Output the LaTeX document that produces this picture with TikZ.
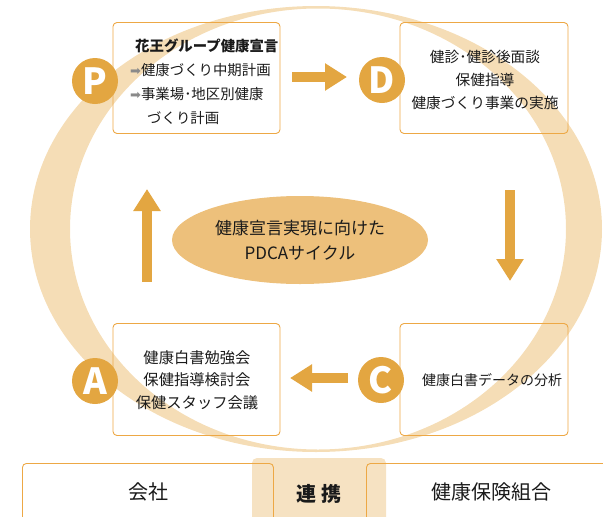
\documentclass[tikz,border=0pt]{standalone}
\usepackage{fontspec}
\setmainfont{Noto Sans CJK JP}
\newfontfamily\symfont{DejaVu Sans}
\usetikzlibrary{arrows.meta,shapes.geometric}
\definecolor{ringc}{HTML}{F5DDB6}
\definecolor{accent}{HTML}{E3A641}
\definecolor{ellc}{HTML}{EDC07B}
\definecolor{boxline}{HTML}{EDA845}
\definecolor{txt}{HTML}{1A1A1A}
\definecolor{tanc}{HTML}{F6E2C2}
\definecolor{arrowgray}{HTML}{8A8A8A}
\begin{document}
\begin{tikzpicture}[x=1pt,y=-1pt,
  stagebox/.style={draw=boxline, line width=0.9pt, rounded corners=4pt, inner sep=0pt},
  badge/.style={circle, fill=accent, minimum size=46pt, inner sep=0pt, text=white, font=\fontsize{36}{36}\selectfont\bfseries},
  flow/.style={draw=accent, line width=10pt, -{Triangle[width=26pt,length=22pt]}},
  lbl/.style={text=txt, font=\fontsize{15}{23}\selectfont, align=center, inner sep=0pt},
  bottomlbl/.style={text=txt, font=\fontsize{20}{22}\selectfont, inner sep=0pt}]
\clip (0,0) rectangle (603,517);
% big ring
\fill[ringc, even odd rule] (316,229) ellipse [x radius=286, y radius=223]
                            (318,229) ellipse [x radius=248, y radius=220.5];
% stage boxes
\node[stagebox, minimum width=167pt, minimum height=111pt] (Pbox) at (196.5,78) {};
\node[stagebox, minimum width=168pt, minimum height=111pt] (Dbox) at (484,78) {};
\node[stagebox, minimum width=167pt, minimum height=112pt] (Abox) at (196.5,379.5) {};
\node[stagebox, minimum width=168pt, minimum height=112pt] (Cbox) at (484,379.5) {};
% box texts
\node[lbl, align=left, anchor=west, font=\fontsize{14.4}{24}\selectfont] (Ptext) at (130,82)
  {\hspace{5pt}{\bfseries 花王グループ健康宣言}\\
   {\color{arrowgray}\symfont\fontsize{13}{13}\selectfont ➡}健康づくり中期計画\\
   {\color{arrowgray}\symfont\fontsize{13}{13}\selectfont ➡}事業場･地区別健康\\
   \hspace{17pt}づくり計画};
\node[lbl, font=\fontsize{14.7}{23}\selectfont] (Dtext) at (485,80) {健診･健診後面談\\保健指導\\健康づくり事業の実施};
\node[lbl, font=\fontsize{15.3}{22.5}\selectfont] (Atext) at (197,380) {健康白書勉強会\\保健指導検討会\\保健スタッフ会議};
\node[lbl, font=\fontsize{14}{22}\selectfont] (Ctext) at (492,380) {健康白書データの分析};
% centre ellipse
\node[ellipse, fill=ellc, minimum width=256pt, minimum height=88pt, inner sep=0pt,
      text=txt, align=center, font=\fontsize{17}{25}\selectfont] (centre) at (300,240)
  {健康宣言実現に向けた\\PDCAサイクル};
% flow arrows
\coordinate (pd1) at (292,77);  \coordinate (pd2) at (347,77);
\coordinate (dc1) at (510,190); \coordinate (dc2) at (510,281);
\coordinate (ca1) at (348,378); \coordinate (ca2) at (290,378);
\coordinate (ap1) at (147,282); \coordinate (ap2) at (147,189);
\draw[flow] (pd1) -- (pd2);
\draw[flow] (dc1) -- (dc2);
\draw[flow] (ca1) -- (ca2);
\draw[flow] (ap1) -- (ap2);
% badges
\node[badge] (P) at (95,81) {P};
\node[badge] (D) at (382,80) {D};
\node[badge] (A) at (95,381) {A};
\node[badge] (C) at (381,380) {C};
% bottom row
\fill[tanc, rounded corners=5pt] (252,458) rectangle (386,540);
\node[stagebox, minimum width=251pt, minimum height=80pt, anchor=north west] (company) at (22,463) {};
\node[stagebox, minimum width=260pt, minimum height=80pt, anchor=north west] (union) at (366,463) {};
\node[bottomlbl] (companytext) at (148,492) {会社};
\node[bottomlbl, font=\fontsize{20}{22}\selectfont\bfseries] (linktext) at (319,494) {連 携};
\node[bottomlbl] (uniontext) at (491,492) {健康保険組合};
\end{tikzpicture}
\end{document}
